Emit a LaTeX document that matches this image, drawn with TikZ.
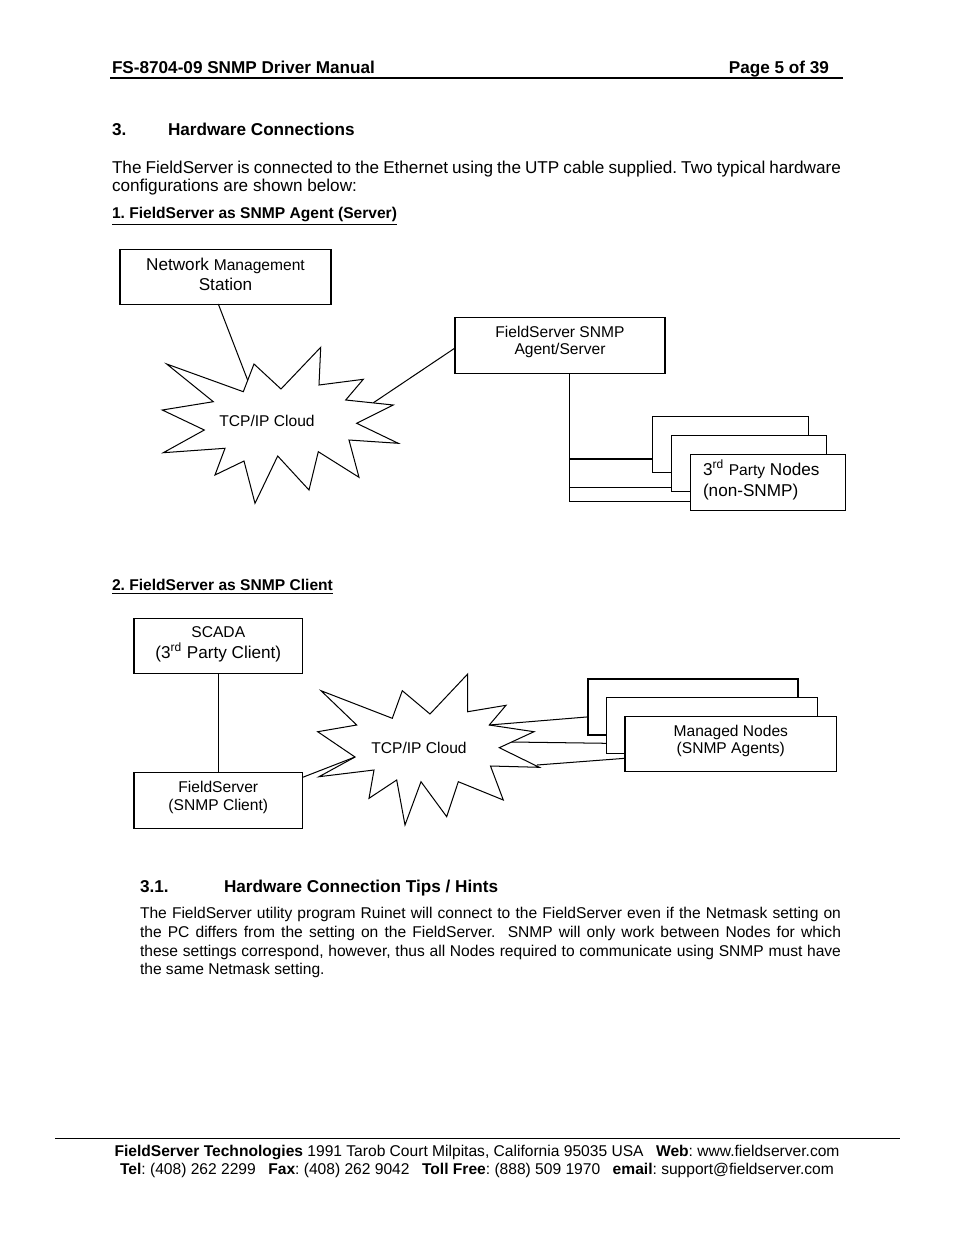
\documentclass[tikz,border=0pt]{standalone}
\usepackage{fontspec}
\setmainfont{Liberation Sans}
\usetikzlibrary{calc}
\frenchspacing

\newcommand{\hdfont}{\fontsize{11}{13}\bfseries\selectfont}
\newcommand{\bodytxt}{\fontsize{11}{11.55}\selectfont}
\newcommand{\tiptxt}{\fontsize{10}{11.55}\selectfont}
\newcommand{\subhd}{\fontsize{10}{12}\bfseries\selectfont}
\newcommand{\ftfont}{\fontsize{10}{11.55}\selectfont}

\tikzset{every picture/.style={line width=0.65pt}}
\tikzset{
  box/.style={draw, fill=white, inner sep=0pt, outer sep=0pt, anchor=north west},
  backbox/.style={box, line width=1.1pt},
  boxsize/.style 2 args={minimum width=#1*0.6415pt, minimum height=#2*0.6415pt},
  txt/.style={inner sep=0pt, outer sep=0pt, align=center},
  burst/.style={draw, fill=white, line join=miter},
}

\begin{document}
\begin{tikzpicture}[x=0.6415pt,y=0.6415pt,yscale=-1,xscale=1]
  \fill[white] (0,0) rectangle (954,1235);
  \useasboundingbox (0,0) rectangle (954,1235);

  % header
  \node[txt, anchor=base west] (hdl) at (112,73) {\hdfont FS-8704-09 SNMP Driver Manual};
  \node[txt, anchor=base east] (hdr) at (829,73) {\hdfont Page 5 of 39};
  \draw[line width=1.6pt] (110,78) -- (843,78);

  % section 3
  \node[txt, anchor=base west] (secno) at (112,135) {\hdfont 3.};
  \node[txt, anchor=base west] (sectitle) at (168,135) {\hdfont Hardware Connections};
  \node[txt, anchor=base west, text width=467.65pt, align=justify] (para1) at (112,173.1)
    {\bodytxt The FieldServer is connected to the Ethernet using the UTP cable supplied. Two typical hardware\linebreak configurations are shown below:};
  \node[txt, anchor=base west] (sub1) at (112,218.6) {\subhd\underline{1. FieldServer as SNMP Agent (Server)}};

  % config 1 : cloud
  \draw[burst] (166.7,364) -- (243.3,391.7) -- (254,364) -- (281,389) -- (320.7,347.3)
    -- (319,385) -- (363.3,379.3) -- (345.7,400) -- (393.3,405) -- (356.7,423.3)
    -- (398.3,443.3) -- (349,440) -- (359,477.3) -- (318.3,451.7) -- (309,490)
    -- (277.7,456) -- (255,503.3) -- (244,461) -- (215,475) -- (225,448.3)
    -- (163.3,452.7) -- (204.3,430) -- (162.3,410) -- (213.3,401.7) -- cycle;
  \coordinate (s1n) at (247.6,380);
  \coordinate (s1e) at (373.3,402.8);
  \node[txt] (cloud1) at (267,421) {\tiptxt TCP/IP Cloud};

  % config 1 : boxes (text anchors sit on the last line)
  \node[box, boxsize={211}{55}] (nms) at (120,249) {};
  \node[txt, anchor=base, font=\fontsize{11}{12.83}\selectfont] (nmstxt) at (225.5,290.1)
    {Network {\fontsize{10}{12.83}\selectfont Management}\\Station};
  \node[box, boxsize={210}{56}] (fsa) at (455,317) {};
  \node[txt, anchor=base, font=\fontsize{10}{10.9}\selectfont] (fsatxt) at (560,354.6)
    {FieldServer SNMP\\Agent/Server};
  \node[backbox, boxsize={156}{56}] (np-back) at (652.5,416.5) {};
  \node[box, boxsize={155}{56}] (np-mid) at (671.5,435.5) {};
  \node[box, boxsize={155}{56}] (np-front) at (690.5,454.5) {};
  \node[txt, anchor=base west, align=left, font=\fontsize{11}{13.5}\selectfont] (nptxt) at (703,496.1)
    {3\textsuperscript{rd} {\fontsize{10}{13.5}\selectfont Party} Nodes\\(non-SNMP)};

  % config 1 : connections
  \draw ($(nms.south)+(-7.2,0)$) -- (s1n);
  \draw (s1e) -- ($(fsa.west)+(0,3)$);
  \coordinate (tap) at ($(fsa.south west)+(114.3,0)$);
  \coordinate (t1) at ($(np-back.south west)+(0,-13.5)$);
  \coordinate (t2) at ($(np-mid.south west)+(0,-3.8)$);
  \coordinate (t3) at ($(np-front.south west)+(0,-9.5)$);
  \draw (tap) |- (t3);
  \draw[line width=1.1pt] (tap |- t1) -- (t1);
  \draw (tap |- t2) -- (t2);

  \node[txt, anchor=base west] (sub2) at (112,590.6) {\subhd\underline{2. FieldServer as SNMP Client}};

  % config 2 : cloud
  \draw[burst] (321,690.7) -- (392.3,718.3) -- (402.3,690.7) -- (430,714) -- (467.7,674)
    -- (467.7,711.7) -- (506,705.3) -- (489.3,725) -- (534,731.7) -- (499.3,747.7)
    -- (539.3,767.3) -- (490.5,766) -- (503.3,800) -- (458.3,781.7) -- (446.7,816.7)
    -- (421,781.7) -- (405,825) -- (396.7,780) -- (369,798.3) -- (374,770)
    -- (319,776.7) -- (355,757) -- (317.7,731.7) -- (356.7,725) -- cycle;
  \coordinate (s2w) at (355,757);
  \coordinate (s2a) at (489.3,725);
  \coordinate (s2b) at (511.7,742);
  \coordinate (s2c) at (537,765);
  \node[txt] (cloud2) at (419,748) {\tiptxt TCP/IP Cloud};

  % config 2 : boxes
  \node[box, boxsize={168.7}{55}] (scada) at (134,618.3) {};
  \node[txt, anchor=base, font=\fontsize{10}{13.1}\selectfont] (scadatxt) at (218.3,658.1)
    {SCADA\\{\fontsize{11}{13.1}\selectfont (3\textsuperscript{rd} Party Client)}};
  \node[box, boxsize={168.7}{55.6}] (fsc) at (134,772.7) {};
  \node[txt, anchor=base, font=\fontsize{10}{11.55}\selectfont] (fsctxt) at (218.3,810.6)
    {FieldServer\\(SNMP Client)};
  \node[backbox, boxsize={210}{55.7}] (mn-back) at (588.3,679.3) {};
  \node[box, boxsize={211}{55.6}] (mn-mid) at (606.7,697.7) {};
  \node[box, boxsize={211.7}{55.2}] (mn-front) at (625,716.5) {};
  \node[txt, anchor=base, font=\fontsize{10}{10.9}\selectfont] (mntxt) at (730.8,753.6)
    {Managed Nodes\\(SNMP Agents)};

  % config 2 : connections
  \draw (scada) -- (fsc);
  \draw ($(fsc.north east)+(0,4.6)$) -- (s2w);
  \draw (s2a) -- ($(mn-back.west)+(0,9.7)$);
  \draw (s2b) -- ($(mn-mid.west)+(0,17.8)$);
  \draw (s2c) -- ($(mn-front.west)+(0,14.2)$);

  % section 3.1
  \node[txt, anchor=base west] (tipno) at (140,892.1) {\hdfont 3.1.};
  \node[txt, anchor=base west] (tiptitle) at (224,892.1) {\hdfont Hardware Connection Tips / Hints};
  \node[txt, anchor=base west, text width=449.7pt, align=justify] (para2) at (140,918.6)
    {\tiptxt The FieldServer utility program Ruinet will connect to the FieldServer even if the Netmask setting on\linebreak the PC differs from the setting on the FieldServer.\ \ SNMP will only work between Nodes for which\linebreak these settings correspond, however, thus all Nodes required to communicate using SNMP must have\linebreak the same Netmask setting.};

  % footer
  \draw (55,1138) -- (900,1138);
  \node[txt, anchor=base] (ft1) at (477,1156.6)
    {\ftfont\textbf{FieldServer Technologies} 1991 Tarob Court Milpitas, California 95035 USA\hspace{8pt}\textbf{Web}: www.fieldserver.com};
  \node[txt, anchor=base] (ft2) at (477,1174.6)
    {\ftfont\textbf{Tel}: (408) 262 2299\hspace{8pt}\textbf{Fax}: (408) 262 9042\hspace{8pt}\textbf{Toll Free}: (888) 509 1970\hspace{8pt}\textbf{email}: support@fieldserver.com};
\end{tikzpicture}
\end{document}
